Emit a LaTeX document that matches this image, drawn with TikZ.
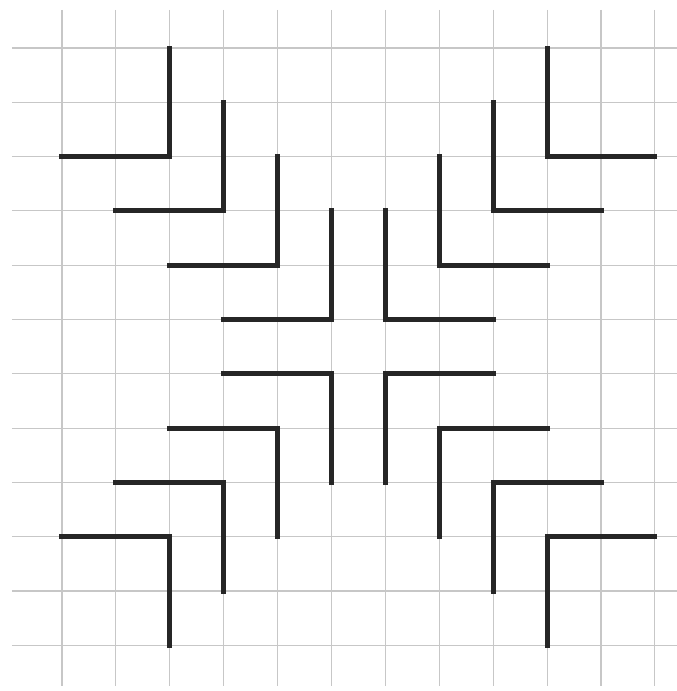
\documentclass[tikz,border=0pt]{standalone}
\begin{document}
\begin{tikzpicture}[x=53.9pt,y=-54.3pt,
  gridline/.style={draw=black!22,line width=1.1pt},
  wall/.style={draw=black!85,line width=5pt,line cap=rect,line join=miter}]
\useasboundingbox[fill=white] (-62pt,48pt) rectangle (615pt,-643pt);
% grid
\foreach \i in {0,...,11}{
  \draw[gridline] (\i,-0.70) -- (\i,11.75);
  \draw[gridline] (-0.93,\i) -- (11.41,\i);
}
% L-shaped walls
\foreach \k in {0,...,3}{
  \draw[wall] ({2+\k},\k) -- ({2+\k},{2+\k}) -- (\k,{2+\k});
  \draw[wall] ({9-\k},\k) -- ({9-\k},{2+\k}) -- ({11-\k},{2+\k});
  \draw[wall] ({3-\k},{6+\k}) -- ({5-\k},{6+\k}) -- ({5-\k},{8+\k});
  \draw[wall] ({8+\k},{6+\k}) -- ({6+\k},{6+\k}) -- ({6+\k},{8+\k});
}
\end{tikzpicture}
\end{document}
